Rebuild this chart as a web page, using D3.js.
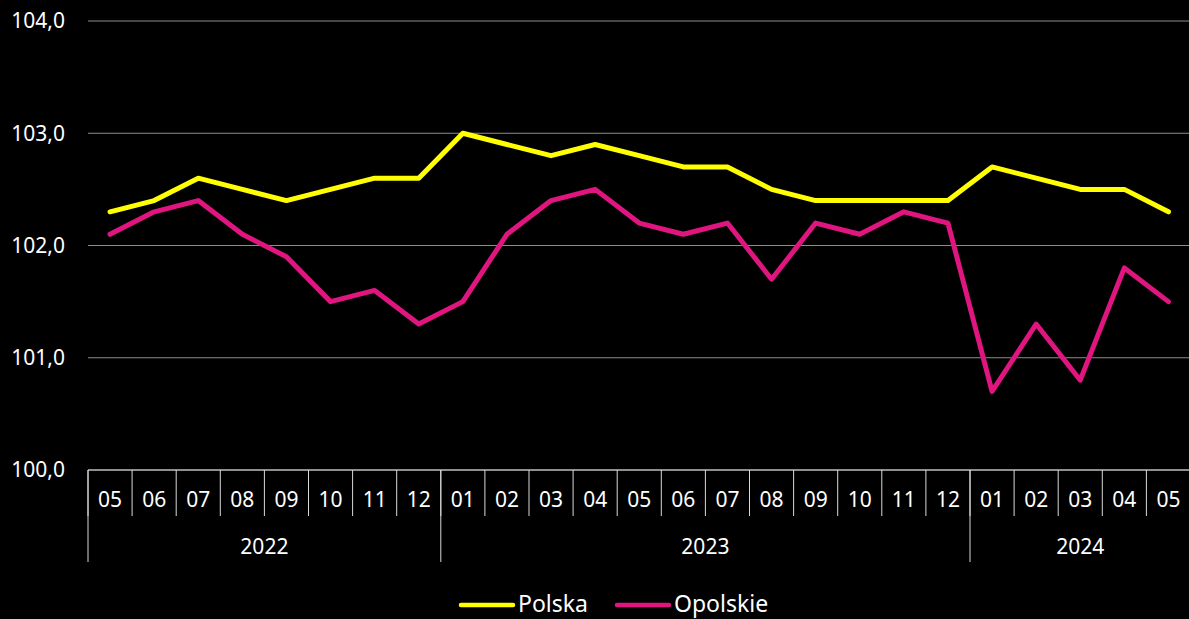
<!DOCTYPE html>
<html>
<head>
<meta charset="utf-8">
<script src="https://cdn.jsdelivr.net/npm/d3@7"></script>
<style>
  body { margin: 0; background: #000; }
  svg { display: block; }
  text { font-family: "Noto Sans", "Open Sans", sans-serif; fill: #fff; }
</style>
</head>
<body>
<div id="chart"></div>
<script>
var months = ["05","06","07","08","09","10","11","12",
              "01","02","03","04","05","06","07","08","09","10","11","12",
              "01","02","03","04","05"];
var years = [
    { label: "2022", start: 0, end: 8 },
    { label: "2023", start: 8, end: 20 },
    { label: "2024", start: 20, end: 25 }
];
var polska = [102.3, 102.4, 102.6, 102.5, 102.4, 102.5, 102.6, 102.6,
              103.0, 102.9, 102.8, 102.9, 102.8, 102.7, 102.7, 102.5, 102.4, 102.4, 102.4, 102.4,
              102.7, 102.6, 102.5, 102.5, 102.3];
var opolskie = [102.1, 102.3, 102.4, 102.1, 101.9, 101.5, 101.6, 101.3,
                101.5, 102.1, 102.4, 102.5, 102.2, 102.1, 102.2, 101.7, 102.2, 102.1, 102.3, 102.2,
                100.7, 101.3, 100.8, 101.8, 101.5];
var yTicks = [100, 101, 102, 103, 104];
var seriesNames = ["Polska", "Opolskie"];
var seriesColors = ["#ffff00", "#e0157f"];

var W = 1189, H = 619;
var margin = { top: 21, left: 88 },
    plotRight = 1190.5,
    plotBottom = 470;

var svg = d3.select("#chart").append("svg")
    .attr("width", W)
    .attr("height", H);

var idx = d3.range(months.length);
var x = d3.scaleBand().domain(idx).range([margin.left, plotRight]);
var y = d3.scaleLinear().domain([100, 104]).range([plotBottom, margin.top]);

// grid lines
svg.append("g").selectAll("line")
    .data(yTicks.slice(1))
    .enter().append("line")
    .attr("x1", margin.left).attr("x2", W)
    .attr("y1", function(d) { return y(d); })
    .attr("y2", function(d) { return y(d); })
    .attr("stroke", "#8c8c8c")
    .attr("stroke-width", 1);

// y labels
svg.append("g").selectAll("text")
    .data(yTicks)
    .enter().append("text")
    .attr("x", 65)
    .attr("y", function(d) { return y(d); })
    .attr("dy", "0.35em")
    .attr("text-anchor", "end")
    .style("font-size", "21px")
    .text(function(d) { return d3.format(".1f")(d).replace(".", ","); });

// x axis baseline
svg.append("line")
    .attr("x1", margin.left).attr("x2", W)
    .attr("y1", plotBottom).attr("y2", plotBottom)
    .attr("stroke", "#bfbfbf").attr("stroke-width", 1.5);

// month separators
svg.append("g").selectAll("line")
    .data(idx)
    .enter().append("line")
    .attr("x1", function(d) { return x(d); })
    .attr("x2", function(d) { return x(d); })
    .attr("y1", plotBottom).attr("y2", 516)
    .attr("stroke", "#d9d9d9").attr("stroke-width", 1);

// year separators
svg.append("g").selectAll("line")
    .data(years)
    .enter().append("line")
    .attr("x1", function(d) { return x(d.start); })
    .attr("x2", function(d) { return x(d.start); })
    .attr("y1", plotBottom).attr("y2", 562)
    .attr("stroke", "#d9d9d9").attr("stroke-width", 1);

// month labels
svg.append("g").selectAll("text")
    .data(idx)
    .enter().append("text")
    .attr("x", function(d) { return x(d) + x.bandwidth() / 2; })
    .attr("y", 500)
    .attr("dy", "0.35em")
    .attr("text-anchor", "middle")
    .style("font-size", "21px")
    .text(function(d) { return months[d]; });

// year labels
svg.append("g").selectAll("text")
    .data(years)
    .enter().append("text")
    .attr("x", function(d) { return (x(d.start) + x(d.end - 1) + x.bandwidth()) / 2; })
    .attr("y", 547)
    .attr("dy", "0.35em")
    .attr("text-anchor", "middle")
    .style("font-size", "21px")
    .text(function(d) { return d.label; });

// lines
var line = d3.line()
    .x(function(d, i) { return x(i) + x.bandwidth() / 2; })
    .y(function(d) { return y(d); });

[opolskie, polska].forEach(function(s, k) {
    svg.append("path")
        .datum(s)
        .attr("fill", "none")
        .attr("stroke", k === 0 ? seriesColors[1] : seriesColors[0])
        .attr("stroke-width", 5)
        .attr("stroke-linejoin", "round")
        .attr("stroke-linecap", "round")
        .attr("d", line);
});

// legend
var legend = svg.append("g");
var legX = [461, 617];
seriesNames.forEach(function(name, i) {
    legend.append("line")
        .attr("x1", legX[i]).attr("x2", legX[i] + 52)
        .attr("y1", 605).attr("y2", 605)
        .attr("stroke", seriesColors[i])
        .attr("stroke-width", 4.5)
        .attr("stroke-linecap", "round");
    legend.append("text")
        .attr("x", legX[i] + 57)
        .attr("y", 604)
        .attr("dy", "0.35em")
        .style("font-size", "23px")
        .text(name);
});
</script>
</body>
</html>
